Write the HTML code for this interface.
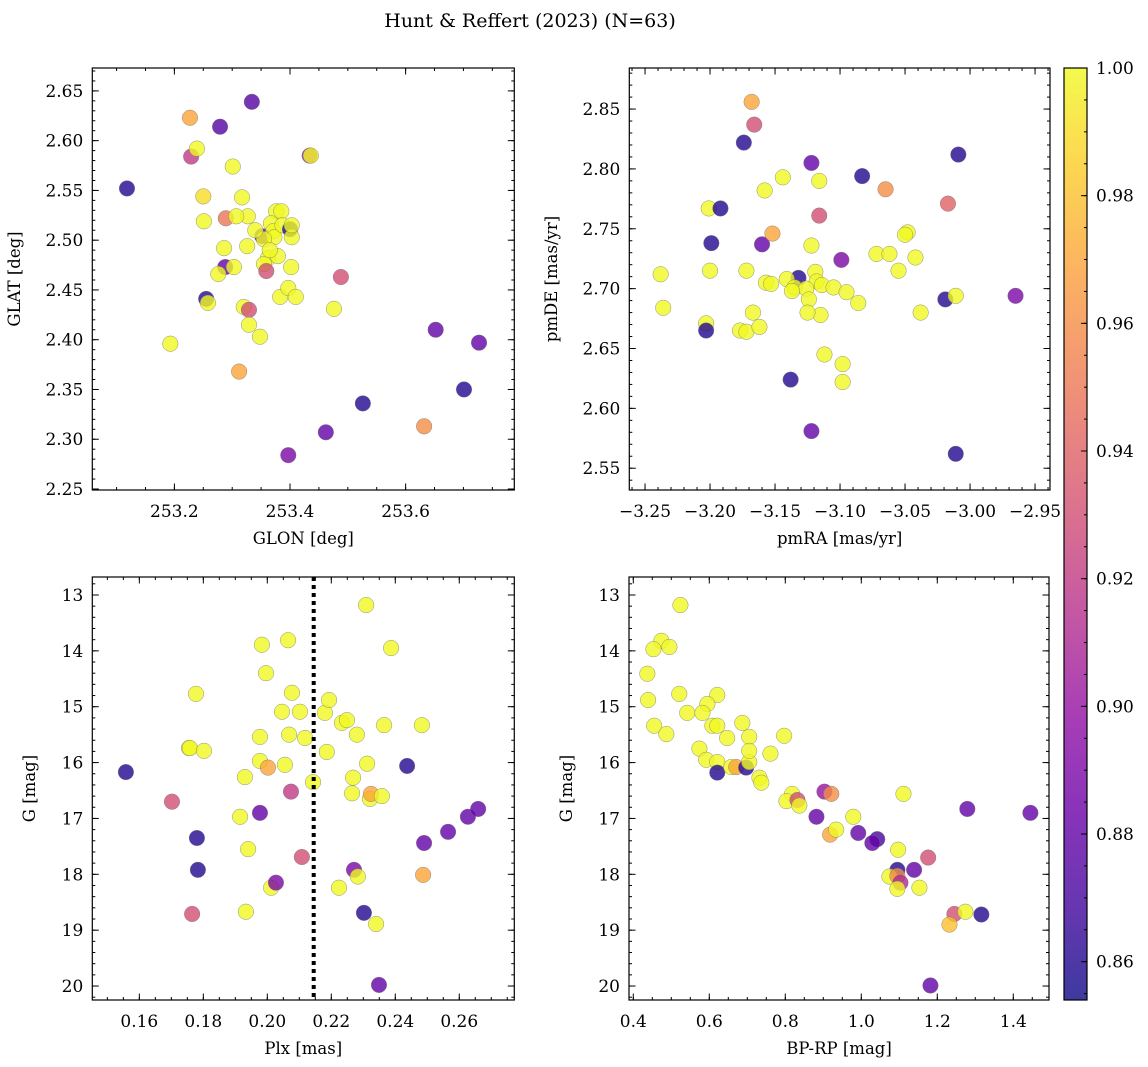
<!DOCTYPE html>
<html><head><meta charset="utf-8">
<style>
html,body{margin:0;padding:0;background:#fff;}
svg{display:block;font-family:"DejaVu Serif","Liberation Serif",serif;}
</style></head>
<body>
<svg id="chart" width="1148" height="1067" viewBox="0 0 1148 1067" xmlns="http://www.w3.org/2000/svg">
<text x="530" y="27" text-anchor="middle" font-size="19">Hunt &amp; Reffert (2023) (N=63)</text>
<defs>
<linearGradient id="plasma" x1="0" y1="1" x2="0" y2="0">
<stop offset="0" stop-color="#0d0887"/><stop offset="0.1" stop-color="#41049d"/><stop offset="0.2" stop-color="#6a00a8"/><stop offset="0.3" stop-color="#8f0da4"/><stop offset="0.4" stop-color="#b12a90"/><stop offset="0.5" stop-color="#cc4778"/><stop offset="0.6" stop-color="#e16462"/><stop offset="0.7" stop-color="#f2844b"/><stop offset="0.8" stop-color="#fca636"/><stop offset="0.9" stop-color="#fcce25"/><stop offset="1" stop-color="#f0f921"/>
</linearGradient>
</defs>
</svg>
<script>
// ---------- data ----------
const p1Lon=[253.118,253.227,253.229,253.239,253.279,253.334,253.434,253.436,253.301,253.250,253.251,253.317,253.327,253.289,253.307,253.352,253.376,253.385,253.367,253.371,253.373,253.387,253.400,253.403,253.403,253.286,253.326,253.288,253.276,253.303,253.355,253.362,253.355,253.359,253.379,253.402,253.383,253.397,253.410,253.488,253.476,253.255,253.258,253.320,253.329,253.329,253.348,253.193,253.312,253.526,253.462,253.632,253.397,253.652,253.727,253.701,253.340,253.365];
const p1Lat=[2.552,2.623,2.584,2.592,2.614,2.639,2.585,2.585,2.574,2.544,2.519,2.543,2.524,2.522,2.524,2.504,2.529,2.529,2.517,2.509,2.503,2.515,2.511,2.503,2.515,2.492,2.494,2.473,2.466,2.473,2.501,2.482,2.476,2.469,2.484,2.473,2.443,2.452,2.443,2.463,2.431,2.441,2.437,2.433,2.430,2.415,2.403,2.396,2.368,2.336,2.307,2.313,2.284,2.410,2.397,2.350,2.510,2.490];
const p1C=[.86,.97,.92,1,.875,.875,.90,1,1,.99,1,1,1,.95,1,.875,1,1,1,1,1,1,.86,1,1,1,1,.88,1,1,1,1,1,.93,1,1,1,1,1,.93,1,.86,1,1,.93,1,1,1,.97,.86,.88,.96,.89,.88,.88,.86,1,1];

const p2RA=[-3.168,-3.166,-3.174,-3.122,-3.009,-3.083,-3.201,-3.192,-3.158,-3.144,-3.116,-3.065,-3.116,-3.048,-3.017,-3.199,-3.160,-3.152,-3.122,-3.238,-3.200,-3.172,-3.157,-3.153,-3.132,-3.141,-3.119,-3.118,-3.072,-3.062,-3.050,-3.055,-3.042,-3.099,-3.135,-3.126,-3.114,-3.105,-3.124,-3.115,-3.137,-3.095,-3.086,-3.019,-3.011,-2.965,-3.236,-3.203,-3.177,-3.172,-3.167,-3.162,-3.125,-3.112,-3.098,-3.098,-3.038,-3.203,-3.138,-3.122,-3.011];
const p2DE=[2.856,2.837,2.822,2.805,2.812,2.794,2.767,2.767,2.782,2.793,2.790,2.783,2.761,2.747,2.771,2.738,2.737,2.746,2.736,2.712,2.715,2.715,2.705,2.704,2.709,2.708,2.714,2.706,2.729,2.729,2.745,2.715,2.726,2.724,2.701,2.700,2.703,2.701,2.691,2.678,2.698,2.697,2.688,2.691,2.694,2.694,2.684,2.671,2.665,2.664,2.680,2.668,2.680,2.645,2.637,2.622,2.680,2.665,2.624,2.581,2.562];
const p2C=[.97,.93,.86,.88,.86,.86,1,.86,1,1,1,.96,.93,1,.94,.86,.88,.97,1,1,1,1,1,1,.86,1,1,1,1,1,1,1,1,.89,1,1,1,1,1,1,1,1,1,.86,1,.89,1,1,1,1,1,1,1,1,1,1,1,.86,.86,.88,.86];

const p3Plx=[.1558,.1702,.1780,.1783,.1765,.1755,.1777,.1758,.1802,.1983,.1996,.2065,.2077,.1977,.1977,.1930,.2002,.2055,.2068,.2046,.2102,.2118,.2143,.2074,.1977,.1915,.1940,.2012,.2027,.1933,.2108,.2180,.2193,.2186,.2233,.2249,.2280,.2265,.2268,.2312,.2321,.2324,.2358,.2309,.2387,.2365,.2437,.2483,.2487,.2490,.2565,.2627,.2659,.2271,.2283,.2302,.2340,.2349,.2224];
const p3G=[16.17,16.70,17.35,17.92,18.71,15.74,14.77,15.74,15.79,13.89,14.40,13.81,14.75,15.54,15.97,16.26,16.09,16.04,15.50,15.09,15.09,15.56,16.35,16.52,16.90,16.97,17.55,18.24,18.15,18.67,17.69,15.11,14.88,15.81,15.29,15.24,15.50,16.55,16.27,16.02,16.65,16.56,16.60,13.18,13.95,15.33,16.06,15.33,18.01,17.44,17.24,16.97,16.83,17.92,18.04,18.69,18.89,19.98,18.24];
const p3C=[.86,.93,.86,.86,.93,1,1,1,1,1,1,1,1,1,1,1,.97,1,1,1,1,1,1,.92,.88,1,1,1,.89,1,.93,1,1,1,1,1,1,1,1,1,1,.97,1,1,1,1,.86,1,.97,.88,.88,.88,.88,.89,1,.86,1,.88,1];
const cutPlx=[0.2145];

const p4BR=[.524,.474,.453,.495,.437,.439,.521,.621,.595,.542,.582,.455,.487,.608,.621,.687,.647,.705,.797,.574,.592,.621,.621,.658,.671,.697,.705,.705,.761,.732,.737,.818,.803,.832,.837,.903,.921,.882,.979,1.111,1.279,1.445,.918,.934,.992,1.042,1.029,1.097,1.176,1.095,1.139,1.074,1.095,1.103,1.095,1.153,1.245,1.274,1.316,1.232,1.182];
const p4G=[13.18,13.82,13.97,13.93,14.41,14.88,14.77,14.79,14.95,15.11,15.11,15.34,15.49,15.34,15.34,15.29,15.56,15.54,15.52,15.75,15.95,15.99,16.18,16.08,16.08,16.09,15.99,15.79,15.84,16.27,16.36,16.56,16.69,16.67,16.77,16.52,16.56,16.97,16.97,16.56,16.83,16.90,17.29,17.20,17.26,17.37,17.44,17.56,17.70,17.92,17.92,18.04,18.03,18.15,18.26,18.24,18.71,18.67,18.72,18.90,19.99];
const p4C=[1,1,1,1,1,1,1,1,1,1,1,1,1,1,1,1,1,1,1,1,1,1,.86,1,.97,.86,1,1,1,1,1,1,1,.93,1,.90,.96,.88,1,1,.88,.88,.97,1,.88,.87,.88,1,.93,.86,.88,1,.96,.91,1,1,.93,1,.86,.98,.88];

const p1XTicks=[253.2,253.4,253.6], p1YTicks=[2.25,2.30,2.35,2.40,2.45,2.50,2.55,2.60,2.65];
const p2XTicks=[-3.25,-3.20,-3.15,-3.10,-3.05,-3.00,-2.95], p2YTicks=[2.55,2.60,2.65,2.70,2.75,2.80,2.85];
const p3XTicks=[0.16,0.18,0.20,0.22,0.24,0.26], gTicks=[13,14,15,16,17,18,19,20];
const p4XTicks=[0.4,0.6,0.8,1.0,1.2,1.4];
const cbTicks=[0.86,0.88,0.90,0.92,0.94,0.96,0.98,1.00];
const cRange=[0.854,1.0];

// ---------- helpers ----------
const NS="http://www.w3.org/2000/svg";
const svg=document.getElementById('chart');
function mk(tag,attrs,parent){const e=document.createElementNS(NS,tag);for(const k in attrs)e.setAttribute(k,attrs[k]);(parent||svg).appendChild(e);return e;}
const stops=[[13,8,135],[65,4,157],[106,0,168],[143,13,164],[177,42,144],[204,71,120],[225,100,98],[242,132,75],[252,166,54],[252,206,37],[240,249,33]];
function plasma(v){let t=(v-cRange[0])/(cRange[1]-cRange[0]);t=Math.max(0,Math.min(1,t))*10;const i=Math.min(9,Math.floor(t)),f=t-i;const a=stops[i],b=stops[i+1];return 'rgb('+[0,1,2].map(k=>Math.round(a[k]+(b[k]-a[k])*f)).join(',')+')';}
function lin(d0,d1,r0,r1){return v=>r0+(v-d0)/(d1-d0)*(r1-r0);}
function fmt(v,dec){return (v<0?'\u2212':'')+Math.abs(v).toFixed(dec);}
const TF=17, LF=16.5;

function panel(name,box,xd,yd,xt,yt,xdec,ydec,xminor,yminor,xlab,ylab,ylabX){
  const g=mk('g',{});
  
  
  const sx=lin(xd[0],xd[1],box.x0,box.x1), sy=lin(yd[0],yd[1],box.y1,box.y0);
  const drawTick=(v,axis,len,parent)=>{
    if(axis==='x'){const x=sx(v);if(x<box.x0+0.5||x>box.x1-0.5)return;
      mk('line',{x1:x,y1:box.y1,x2:x,y2:box.y1-len,stroke:'#000','stroke-width':1},parent);
      mk('line',{x1:x,y1:box.y0,x2:x,y2:box.y0+len,stroke:'#000','stroke-width':1},parent);}
    else{const y=sy(v);if(y<box.y0+0.5||y>box.y1-0.5)return;
      mk('line',{x1:box.x0,y1:y,x2:box.x0+len,y2:y,stroke:'#000','stroke-width':1},parent);
      mk('line',{x1:box.x1,y1:y,x2:box.x1-len,y2:y,stroke:'#000','stroke-width':1},parent);}
  };
  const lo=Math.min(xd[0],xd[1]),hi=Math.max(xd[0],xd[1]);
  for(let k=Math.ceil(lo/xminor);k*xminor<=hi;k++)drawTick(k*xminor,'x',3,g);
  const ylo=Math.min(yd[0],yd[1]),yhi=Math.max(yd[0],yd[1]);
  for(let k=Math.ceil(ylo/yminor);k*yminor<=yhi;k++)drawTick(k*yminor,'y',3,g);
  const xg=mk('g',{},g);
  
  
  xt.forEach(v=>{drawTick(v,'x',6.5,xg);
    const t=mk('text',{x:sx(v),y:box.y1+27,'text-anchor':'middle','font-size':TF},xg);t.textContent=fmt(v,xdec);
    
    });
  const yg=mk('g',{},g);
  
  
  yt.forEach(v=>{drawTick(v,'y',6.5,yg);
    const t=mk('text',{x:box.x0-9,y:sy(v)+6,'text-anchor':'end','font-size':TF},yg);t.textContent=fmt(v,ydec);
    
    });
  const xl=mk('text',{x:(box.x0+box.x1)/2,y:box.y1+54,'text-anchor':'middle','font-size':LF},g);xl.textContent=xlab;
  
  
  const cy=(box.y0+box.y1)/2;
  const yl=mk('text',{x:ylabX,y:cy,'text-anchor':'middle','font-size':LF,transform:'rotate(-90 '+ylabX+' '+cy+')'},g);yl.textContent=ylab;
  
  
  return {g,sx,sy,box};
}
function frame(p){const r=mk('rect',{x:p.box.x0,y:p.box.y0,width:p.box.x1-p.box.x0,height:p.box.y1-p.box.y0,fill:'none',stroke:'#000','stroke-width':1.2},p.g);
  
  }
function scatter(p,xs,ys,cs,name){
  const g=mk('g',{},p.g);
  
  
  xs.forEach((v,i)=>{const c=mk('circle',{cx:p.sx(v),cy:p.sy(ys[i]),r:7.8,fill:plasma(cs[i]),'fill-opacity':0.8,stroke:'#777','stroke-width':0.5,'stroke-opacity':0.8},g);
    
    });
}

// ---------- panels ----------
const P1=panel('glon-glat-panel',{x0:92.3,x1:514.3,y0:68,y1:490},[253.058,253.788],[2.249,2.673],p1XTicks,p1YTicks,1,2,0.05,0.01,'GLON [deg]','GLAT [deg]',20);
scatter(P1,p1Lon,p1Lat,p1C,'glon-glat-points');frame(P1);

const P2=panel('proper-motion-panel',{x0:629.3,x1:1050,y0:68,y1:490},[-3.2621,-2.9385],[2.5318,2.8843],p2XTicks,p2YTicks,2,2,0.01,0.01,'pmRA [mas/yr]','pmDE [mas/yr]',557);
scatter(P2,p2RA,p2DE,p2C,'proper-motion-points');frame(P2);

const P3=panel('plx-g-panel',{x0:92.3,x1:514.3,y0:577,y1:1000},[0.1453,0.2772],[20.25,12.678],p3XTicks,gTicks,2,0,0.005,0.2,'Plx [mas]','G [mag]',35);
scatter(P3,p3Plx,p3G,p3C,'plx-g-points');
cutPlx.forEach(v=>{const l=mk('line',{x1:P3.sx(v),y1:577,x2:P3.sx(v),y2:1000,stroke:'#000','stroke-width':4,'stroke-dasharray':'4,4'},P3.g);
  
  });
frame(P3);

const P4=panel('cmd-panel',{x0:629,x1:1049,y0:577,y1:1000},[0.3887,1.494],[20.25,12.678],p4XTicks,gTicks,1,0,0.05,0.2,'BP-RP [mag]','G [mag]',572);
scatter(P4,p4BR,p4G,p4C,'cmd-points');frame(P4);

// ---------- colorbar ----------
const cb=mk('g',{});


const cbx0=1064,cbx1=1087,cby0=68,cby1=1000;
mk('rect',{x:cbx0,y:cby0,width:cbx1-cbx0,height:cby1-cby0,fill:'url(#plasma)','fill-opacity':0.8},cb);
const cs=lin(cRange[0],cRange[1],cby1,cby0);
for(let k=Math.ceil(cRange[0]/0.005);k*0.005<=cRange[1]+1e-9;k++){const y=cs(k*0.005);
  mk('line',{x1:cbx1,y1:y,x2:cbx1-3,y2:y,stroke:'#000','stroke-width':1},cb);}
cbTicks.forEach(v=>{const y=cs(v);
  mk('line',{x1:cbx1,y1:y,x2:cbx1-6,y2:y,stroke:'#000','stroke-width':1},cb);
  const t=mk('text',{x:cbx1+9,y:y+6,'font-size':TF},cb);t.textContent=v.toFixed(2);
  
  });
mk('rect',{x:cbx0,y:cby0,width:cbx1-cbx0,height:cby1-cby0,fill:'none',stroke:'#000','stroke-width':1.2},cb);
</script>
</body></html>
